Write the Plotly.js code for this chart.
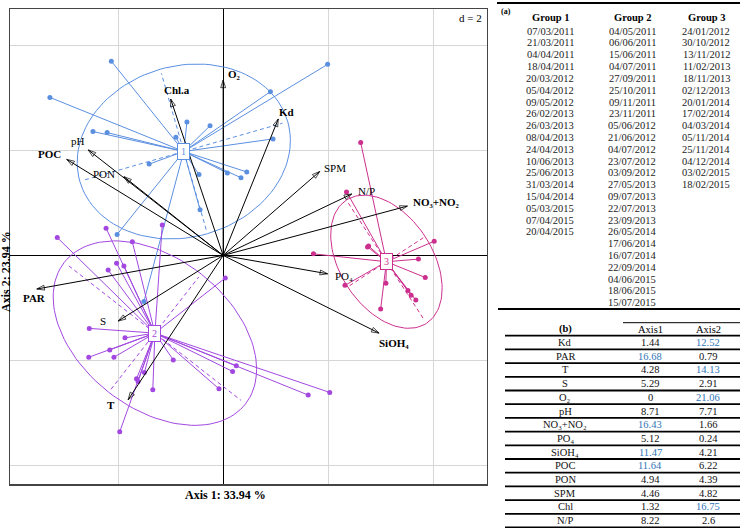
<!DOCTYPE html>
<html>
<head>
<meta charset="utf-8">
<script src="https://cdn.plot.ly/plotly-3.0.1.min.js"></script>
<style>html,body{margin:0;padding:0;background:#fff;}#chart{width:740px;height:528px;}</style>
</head>
<body>
<div id="chart"></div>
<script>
// ---------------- DATA ----------------
const groupLabels = ['1', '2', '3'];
const tableAHeaders = ['Group 1', 'Group 2', 'Group 3'];
const group1Dates = ['07/03/2011','21/03/2011','04/04/2011','18/04/2011','20/03/2012','05/04/2012','09/05/2012','26/02/2013','26/03/2013','08/04/2013','24/04/2013','10/06/2013','25/06/2013','31/03/2014','15/04/2014','05/03/2015','07/04/2015','20/04/2015'];
const group2Dates = ['04/05/2011','06/06/2011','15/06/2011','04/07/2011','27/09/2011','25/10/2011','09/11/2011','23/11/2011','05/06/2012','21/06/2012','04/07/2012','23/07/2012','03/09/2012','27/05/2013','09/07/2013','22/07/2013','23/09/2013','26/05/2014','17/06/2014','16/07/2014','22/09/2014','04/06/2015','18/06/2015','15/07/2015'];
const group3Dates = ['24/01/2012','30/10/2012','13/11/2012','11/02/2013','18/11/2013','02/12/2013','20/01/2014','17/02/2014','04/03/2014','05/11/2014','25/11/2014','04/12/2014','03/02/2015','18/02/2015'];

// sample scores (Axis 1, Axis 2)
const group1X = [-2.13,-3.30,1.99,0.90,-2.48,-2.21,-0.90,-0.69,-0.25,0.95,-1.41,-0.46,0.08,0.45,0.34,-0.44,-2.02,-1.51];
const group1Y = [3.70,3.01,3.64,3.12,2.36,2.34,2.25,2.54,2.47,2.22,1.74,1.54,1.57,1.59,1.48,0.87,0.40,-0.88];
const group2X = [-3.16,-2.23,-1.73,-1.16,-2.03,-1.89,-2.19,-2.55,-1.87,-2.16,-2.56,-2.08,-0.95,-1.50,-1.65,-1.62,-1.34,-0.08,0.18,0.25,0.04,-1.97,1.62,2.03];
const group2Y = [0.34,0.52,0.26,0.58,-0.15,-0.20,-0.28,-1.39,-1.57,-1.80,-1.94,-1.94,-1.99,-2.23,-2.35,-2.40,-2.56,-2.54,-2.21,-2.10,-0.43,-3.36,-2.66,-2.61];
const group3X = [2.35,2.62,2.75,1.72,3.72,3.85,3.10,2.32,3.52,3.67,3.00,4.02,3.58,2.77];
const group3Y = [1.21,2.15,0.16,0.03,-0.07,-0.42,-0.53,-0.57,-0.67,-0.85,-1.02,0.27,-0.76,0.18];

// class centres and ellipses
const centerX = [-0.75, -1.30, 3.11];
const centerY = [1.98, -1.48, -0.12];
const ellipseA = [2.06, 2.19, 1.40];
const ellipseB = [1.63, 1.43, 0.88];
const ellipseAngle = [16, -38, -57];

// variable arrows
const varLabels = ['Kd','PAR','T','S','O\u2082','pH','NO\u2083+NO\u2082','PO\u2084','SiOH\u2084','POC','PON','SPM','Chl.a','N/P'];
const varX = [1.05,-3.55,-1.81,-2.00,0.00,-2.57,3.51,1.99,2.97,-2.98,-1.89,1.84,-1.00,2.45];
const varY = [2.60,-0.64,-2.75,-1.25,3.34,2.01,0.94,-0.35,-1.48,1.83,1.50,1.60,2.98,1.17];
const varBold = [true,true,true,false,true,false,true,false,true,true,false,false,true,false];

// contributions table
const contribVars = ['Kd','PAR','T','S','O\u2082','pH','NO\u2083+NO\u2082','PO\u2084','SiOH\u2084','POC','PON','SPM','Chl','N/P'];
const contribAxis1 = ['1.44','16.68','4.28','5.29','0','8.71','16.43','5.12','11.47','11.64','4.94','4.46','1.32','8.22'];
const contribAxis2 = ['12.52','0.79','14.13','2.91','21.06','7.71','1.66','0.24','4.21','6.22','4.39','4.82','16.75','2.6'];
const tableBHeaders = ['(b)', 'Axis1', 'Axis2'];

const axis1Title = 'Axis 1: 33.94 %';
const axis2Title = 'Axis 2: 23.94 %';
const scaleLabel = 'd = 2';

// ---------------- STYLE ----------------
const colors = ['#5b8fe0', '#a248e0', '#cc2f8e'];
const FONT = 'Liberation Serif, Times New Roman, serif';
const W = 740, H = 528;
const px = v => v / W;
const py = v => 1 - v / H;

// label placement (xanchor, xshift, yshift) per variable
const labelPlace = [
  ['left', -1, 7], ['center', -2, -9], ['center', -17, -5], ['right', -10, 0],
  ['left', 3, 6], ['right', -1, 9], ['left', 4, 4], ['left', 5, -2],
  ['left', -2, -10], ['right', -4, 5], ['right', -7, 3], ['left', 2, 3],
  ['center', 6, 9], ['left', 4, 3]
];

const groupsX = [group1X, group2X, group3X];
const groupsY = [group1Y, group2Y, group3Y];

const traces = [];
const annotations = [];
const shapes = [];

for (let g = 0; g < 3; g++) {
  // star lines
  const sx = [], sy = [];
  groupsX[g].forEach((v, i) => { sx.push(centerX[g], v, null); sy.push(centerY[g], groupsY[g][i], null); });
  traces.push({x: sx, y: sy, mode: 'lines', line: {color: colors[g], width: 1}, hoverinfo: 'skip', showlegend: false});
  // ellipse
  const phi = ellipseAngle[g] * Math.PI / 180;
  const ex = [], ey = [];
  for (let k = 0; k <= 120; k++) {
    const t = 2 * Math.PI * k / 120;
    const u = ellipseA[g] * Math.cos(t), w = ellipseB[g] * Math.sin(t);
    ex.push(centerX[g] + u * Math.cos(phi) - w * Math.sin(phi));
    ey.push(centerY[g] + u * Math.sin(phi) + w * Math.cos(phi));
  }
  traces.push({x: ex, y: ey, mode: 'lines', line: {color: colors[g], width: 1}, hoverinfo: 'skip', showlegend: false});
  // ellipse axes (dashed)
  const f = 0.95;
  const ax1 = ellipseA[g] * f, ax2 = ellipseB[g] * f;
  traces.push({
    x: [centerX[g] - ax1 * Math.cos(phi), centerX[g] + ax1 * Math.cos(phi), null, centerX[g] + ax2 * Math.sin(phi), centerX[g] - ax2 * Math.sin(phi)],
    y: [centerY[g] - ax1 * Math.sin(phi), centerY[g] + ax1 * Math.sin(phi), null, centerY[g] - ax2 * Math.cos(phi), centerY[g] + ax2 * Math.cos(phi)],
    mode: 'lines', line: {color: colors[g], width: 1, dash: '4px,3px'}, hoverinfo: 'skip', showlegend: false
  });
  // points
  traces.push({x: groupsX[g], y: groupsY[g], mode: 'markers', marker: {color: colors[g], size: 5}, hoverinfo: 'skip', showlegend: false});
  // centre label
  annotations.push({x: centerX[g], y: centerY[g], xref: 'x', yref: 'y', text: groupLabels[g], showarrow: false,
    font: {family: FONT, size: 10, color: colors[g]}, bgcolor: '#fff', bordercolor: colors[g], borderwidth: 1, borderpad: 1,
    width: 9, height: 13});
}

// arrows (line + oriented open arrow marker) and labels
varLabels.forEach((lab, i) => {
  traces.push({x: [0, varX[i]], y: [0, varY[i]], mode: 'lines+markers', hoverinfo: 'skip', showlegend: false,
    line: {color: '#000', width: 1},
    marker: {symbol: ['circle', 'arrow-open'], size: [0, 8], angleref: 'previous', color: '#000', line: {color: '#000', width: 1}}});
  const p = labelPlace[i];
  annotations.push({x: varX[i], y: varY[i], xref: 'x', yref: 'y', text: varBold[i] ? '<b>' + lab + '</b>' : lab,
    showarrow: false, xanchor: p[0], yanchor: 'middle', xshift: p[1], yshift: p[2],
    font: {family: FONT, size: 11, color: '#000'}});
});

// axis titles and d label
annotations.push({x: px(225), y: py(495), xref: 'paper', yref: 'paper', text: '<b>' + axis1Title + '</b>', showarrow: false,
  font: {family: FONT, size: 12, color: '#000'}, xanchor: 'center', yanchor: 'middle'});
annotations.push({x: px(6), y: py(272), xref: 'paper', yref: 'paper', text: '<b>' + axis2Title + '</b>', showarrow: false, textangle: -90,
  font: {family: FONT, size: 12, color: '#000'}, xanchor: 'center', yanchor: 'middle'});
annotations.push({x: px(484), y: py(18), xref: 'paper', yref: 'paper', text: scaleLabel, showarrow: false,
  font: {family: FONT, size: 11, color: '#000'}, xanchor: 'right', yanchor: 'middle'});

// ---------- table (a) ----------
const colAX = [550, 632, 706];
const dateCols = [group1Dates, group2Dates, group3Dates];
annotations.push({x: px(499), y: py(11), xref: 'paper', yref: 'paper', text: '<b>(a)</b>', showarrow: false,
  font: {family: FONT, size: 8, color: '#000'}, xanchor: 'left', yanchor: 'middle'});
tableAHeaders.forEach((h, c) => {
  annotations.push({x: px(colAX[c]), y: py(17), xref: 'paper', yref: 'paper', text: '<b>' + h + '</b>', showarrow: false,
    font: {family: FONT, size: 10.5, color: '#000'}, xanchor: 'center', yanchor: 'middle'});
  dateCols[c].forEach((d, r) => {
    annotations.push({x: px(colAX[c]), y: py(31.2 + r * 11.8), xref: 'paper', yref: 'paper', text: d, showarrow: false,
      font: {family: FONT, size: 10.5, color: '#222'}, xanchor: 'center', yanchor: 'middle'});
  });
});
shapes.push({type: 'line', xref: 'paper', yref: 'paper', x0: px(497), x1: px(740), y0: py(3), y1: py(3), line: {color: '#000', width: 2}});
shapes.push({type: 'line', xref: 'paper', yref: 'paper', x0: px(498), x1: px(740), y0: py(309), y1: py(309), line: {color: '#000', width: 2}});

// ---------- table (b) ----------
const colBX = [565, 650, 708];
tableBHeaders.forEach((h, c) => {
  annotations.push({x: px(colBX[c]), y: py(329), xref: 'paper', yref: 'paper', text: c === 0 ? '<b>' + h + '</b>' : h, showarrow: false,
    font: {family: FONT, size: 10.5, color: '#000'}, xanchor: 'center', yanchor: 'middle'});
});
shapes.push({type: 'line', xref: 'paper', yref: 'paper', x0: px(623), x1: px(740), y0: py(322.7), y1: py(322.7), line: {color: '#000', width: 1}});
const rowTop = 335.7, rowH = 13.7;
shapes.push({type: 'line', xref: 'paper', yref: 'paper', x0: px(505), x1: px(740), y0: py(rowTop), y1: py(rowTop), line: {color: '#000', width: 1.8}});
contribVars.forEach((v, r) => {
  const yc = rowTop + rowH * (r + 0.5);
  const vals = [v, contribAxis1[r], contribAxis2[r]];
  vals.forEach((t, c) => {
    const hi = c > 0 && parseFloat(t) > 10;
    annotations.push({x: px(colBX[c]), y: py(yc), xref: 'paper', yref: 'paper', text: t, showarrow: false,
      font: {family: FONT, size: 10.5, color: hi ? '#2f75b5' : '#111'}, xanchor: 'center', yanchor: 'middle'});
  });
  const yl = rowTop + rowH * (r + 1);
  shapes.push({type: 'line', xref: 'paper', yref: 'paper', x0: px(505), x1: px(740), y0: py(yl), y1: py(yl), line: {color: '#000', width: 1.8}});
});

const layout = {
  width: W, height: H,
  margin: {l: 0, r: 0, t: 0, b: 0},
  paper_bgcolor: '#fff', plot_bgcolor: '#fff',
  showlegend: false,
  xaxis: {domain: [px(10), px(486.7)], range: [-4.06, 5.02], tickvals: [-2, 0, 2, 4], showticklabels: false, ticks: '',
    showgrid: true, gridcolor: '#d6d6d6', gridwidth: 1, zeroline: true, zerolinecolor: '#000', zerolinewidth: 1,
    showline: true, mirror: true, linecolor: '#444', linewidth: 1.2, fixedrange: true},
  yaxis: {domain: [1 - 484.3 / H, 1 - 8.7 / H], range: [-4.36, 4.70], tickvals: [-4, -2, 0, 2, 4], showticklabels: false, ticks: '',
    showgrid: true, gridcolor: '#d6d6d6', gridwidth: 1, zeroline: true, zerolinecolor: '#000', zerolinewidth: 1,
    showline: true, mirror: true, linecolor: '#444', linewidth: 1.2, fixedrange: true},
  annotations: annotations,
  shapes: shapes
};

Plotly.newPlot('chart', traces, layout, {displayModeBar: false, staticPlot: true});
</script>
</body>
</html>
